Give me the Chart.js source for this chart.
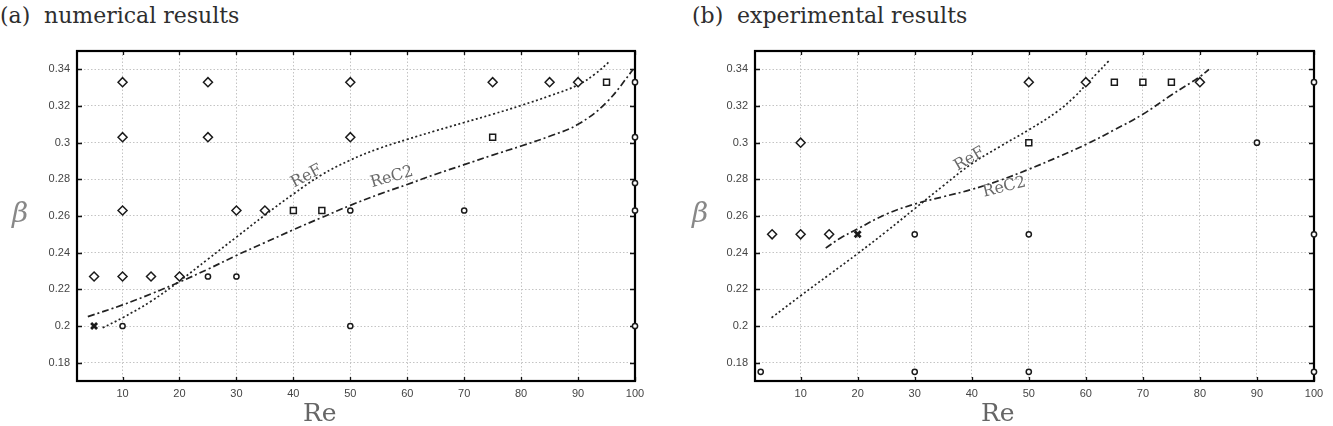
<!DOCTYPE html>
<html><head><meta charset="utf-8">
<script src="https://cdn.jsdelivr.net/npm/chart.js@4.4.1/dist/chart.umd.min.js"></script>
<style>
html,body{margin:0;padding:0;background:#fff;}
body{width:1333px;height:426px;position:relative;overflow:hidden;}
.wrap{position:absolute;top:0;height:426px;}
.t{position:absolute;font-family:"DejaVu Serif",serif;color:#2e2e2e;white-space:pre;line-height:1;}
.ax{position:absolute;font-family:"DejaVu Serif",serif;color:#666;white-space:pre;line-height:1;}
.beta{position:absolute;font-family:"DejaVu Serif",serif;font-style:italic;color:#888;line-height:1;}
</style></head><body>

<div class="t" style="left:0;top:5px;font-size:22px">(a)</div>
<div class="t" style="left:44px;top:5px;font-size:22px">numerical results</div>
<div class="t" style="left:692px;top:5px;font-size:22px">(b)</div>
<div class="t" style="left:737px;top:5px;font-size:22px">experimental results</div>

<div class="wrap" style="left:0;width:666px;"><canvas id="c1" width="666" height="426"></canvas></div>
<div class="wrap" style="left:666px;width:667px;"><canvas id="c2" width="667" height="426"></canvas></div>

<div class="ax" style="left:303px;top:400px;font-size:25px">Re</div>
<div class="ax" style="left:981px;top:400px;font-size:25px">Re</div>
<div class="beta" style="left:12px;top:199px;font-size:28px">β</div>
<div class="beta" style="left:692px;top:199px;font-size:28px">β</div>

<script>
// ---- axes ----
const xTickValues = [10,20,30,40,50,60,70,80,90,100];
const xTickLabels = ['10','20','30','40','50','60','70','80','90','100'];
const yTickValues = [0.18,0.20,0.22,0.24,0.26,0.28,0.30,0.32,0.34];
const yTickLabels = ['0.18','0.2','0.22','0.24','0.26','0.28','0.3','0.32','0.34'];
const xMin = 2, xMax = 100, yMin = 0.17, yMax = 0.35;

// ---- (a) numerical results ----
const numDiamondX = [5,10,15,20,10,10,10,25,25,30,35,50,50,75,85,90];
const numDiamondY = [0.227,0.227,0.227,0.227,0.263,0.303,0.333,0.303,0.333,0.263,0.263,0.303,0.333,0.333,0.333,0.333];
const numCircleX = [10,25,30,50,50,70,100,100,100,100,100];
const numCircleY = [0.200,0.227,0.227,0.200,0.263,0.263,0.200,0.263,0.278,0.303,0.333];
const numSquareX = [40,45,75,95];
const numSquareY = [0.263,0.263,0.303,0.333];
const numCrossX = [5];
const numCrossY = [0.200];
const numRefX = [6.5,10,15,20,25,30,35,40,45,50,55,60,65,70,75,80,85,90,93,95.6];
const numRefY = [0.199,0.2045,0.2135,0.2245,0.2365,0.2485,0.2605,0.2720,0.2825,0.2905,0.2968,0.3018,0.3065,0.3110,0.3155,0.3203,0.3255,0.3315,0.3375,0.3445];
const numRec2X = [3.9,10,15,20,25,30,35,40,45,50,55,60,65,70,75,80,85,90,95,99.7];
const numRec2Y = [0.2051,0.2115,0.2175,0.2240,0.2310,0.2385,0.2455,0.2525,0.2592,0.2658,0.2718,0.2772,0.2828,0.2880,0.2932,0.2982,0.3035,0.3100,0.3220,0.3400];
const numLabelText = ['ReF','ReC2'];
const numLabelX = [42.3,57.3];
const numLabelY = [0.2816,0.2811];
const numLabelAngle = [-28,-16];

// ---- (b) experimental results ----
const expDiamondX = [5,10,15,10,50,60,80];
const expDiamondY = [0.25,0.25,0.25,0.30,0.333,0.333,0.333];
const expCircleX = [3,30,30,50,50,90,100,100,100];
const expCircleY = [0.175,0.25,0.175,0.25,0.175,0.30,0.333,0.25,0.175];
const expSquareX = [50,65,70,75];
const expSquareY = [0.30,0.333,0.333,0.333];
const expCrossX = [20];
const expCrossY = [0.25];
const expRefX = [4.9,10,15,20,25,30,35,40,45,50,55,58,60,62,64];
const expRefY = [0.2045,0.2165,0.2280,0.2395,0.2515,0.2640,0.2765,0.2885,0.2980,0.3070,0.3170,0.3250,0.3315,0.3380,0.3445];
const expRec2X = [14.4,17,20,25,30,35,40,45,50,55,60,65,70,75,80,81.6];
const expRec2Y = [0.2425,0.2480,0.2530,0.2610,0.2665,0.2705,0.2745,0.2795,0.2855,0.2920,0.2990,0.3070,0.3155,0.3260,0.3360,0.3400];
const expLabelText = ['ReF','ReC2'];
const expLabelX = [39.6,45.7];
const expLabelY = [0.2909,0.2756];
const expLabelAngle = [-30,-14];

const zip = (xs, ys) => xs.map((x, i) => ({x, y: ys[i]}));

const framePlugin = {
  id: 'frame',
  beforeDatasetsDraw(chart) {
    const {ctx, chartArea: a, scales: {x, y}} = chart;
    ctx.save();
    ctx.strokeStyle = '#111';
    ctx.lineWidth = 1.3;
    ctx.beginPath();
    xTickValues.forEach(v => {
      const p = Math.round(x.getPixelForValue(v)) + 0.5;
      ctx.moveTo(p, a.bottom); ctx.lineTo(p, a.bottom - 4);
      ctx.moveTo(p, a.top); ctx.lineTo(p, a.top + 4);
    });
    yTickValues.forEach(v => {
      const p = Math.round(y.getPixelForValue(v)) + 0.5;
      ctx.moveTo(a.left, p); ctx.lineTo(a.left + 5, p);
      ctx.moveTo(a.right, p); ctx.lineTo(a.right - 5, p);
    });
    ctx.stroke();
    ctx.lineWidth = 2.2;
    ctx.strokeStyle = '#000';
    ctx.strokeRect(a.left, a.top, a.right - a.left, a.bottom - a.top);
    ctx.restore();
  }
};

const labelPlugin = {
  id: 'curveLabels',
  afterDatasetsDraw(chart, args, opts) {
    const {ctx, scales: {x, y}} = chart;
    ctx.save();
    ctx.fillStyle = '#6a6a6a';
    ctx.font = '16px "DejaVu Serif", serif';
    ctx.textAlign = 'center';
    ctx.textBaseline = 'middle';
    opts.text.forEach((t, i) => {
      ctx.save();
      ctx.translate(x.getPixelForValue(opts.xs[i]), y.getPixelForValue(opts.ys[i]));
      ctx.rotate(opts.angles[i] * Math.PI / 180);
      ctx.fillText(t, 0, 0);
      ctx.restore();
    });
    ctx.restore();
  }
};

function markerSet(xs, ys, style, radius, bw) {
  return {
    data: zip(xs, ys), pointStyle: style, pointRadius: radius,
    borderColor: '#1a1a1a', backgroundColor: '#fff', pointBorderWidth: bw,
    borderWidth: bw, showLine: false, clip: false, order: 0
  };
}
function curveSet(xs, ys, dash) {
  return {
    data: zip(xs, ys), showLine: true, pointRadius: 0, borderColor: '#222',
    borderWidth: 1.7, borderDash: dash, tension: 0.4,
    fill: false, clip: false, order: 1
  };
}

function makeChart(id, d, yAxisWidth, padRight) {
  const axisFont = {family: '"Liberation Sans", Arial, sans-serif', size: 11};
  return new Chart(document.getElementById(id), {
    type: 'scatter',
    data: {datasets: [
      markerSet(d.dx, d.dy, 'rectRot', 4.5, 1.5),
      markerSet(d.cx, d.cy, 'circle', 2.6, 1.5),
      markerSet(d.sx, d.sy, 'rect', 4.2, 1.5),
      markerSet(d.kx, d.ky, 'crossRot', 4.2, 2.8),
      curveSet(d.rfx, d.rfy, [2, 2.5]),
      curveSet(d.rcx, d.rcy, [7, 3, 2, 3])
    ]},
    options: {
      responsive: false, animation: false,
      layout: {padding: {left: 0, right: padRight, top: 51, bottom: 0}},
      plugins: {
        legend: {display: false}, tooltip: {enabled: false},
        curveLabels: {text: d.lt, xs: d.lx, ys: d.ly, angles: d.la}
      },
      scales: {
        x: {
          type: 'linear', min: xMin, max: xMax,
          afterBuildTicks: ax => { ax.ticks = xTickValues.map(v => ({value: v})); },
          afterFit: ax => { ax.height = 45; ax.paddingLeft = 0; ax.paddingRight = 0; },
          ticks: {font: axisFont, color: '#444', padding: 6, maxRotation: 0,
                  callback: (v) => xTickLabels[xTickValues.indexOf(v)]},
          grid: {color: '#c4c4c4', lineWidth: 1, drawTicks: false},
          border: {display: false, dash: [1.5, 2]}
        },
        y: {
          type: 'linear', min: yMin, max: yMax,
          afterBuildTicks: ax => { ax.ticks = yTickValues.map(v => ({value: v})); },
          afterFit: ax => { ax.width = yAxisWidth; ax.paddingTop = 0; ax.paddingBottom = 0; },
          ticks: {font: axisFont, color: '#444', padding: 7,
                  callback: (v) => yTickLabels[yTickValues.findIndex(t => Math.abs(t - v) < 1e-9)]},
          grid: {color: '#c4c4c4', lineWidth: 1, drawTicks: false},
          border: {display: false, dash: [1.5, 2]}
        }
      }
    },
    plugins: [framePlugin, labelPlugin]
  });
}

makeChart('c1', {
  dx: numDiamondX, dy: numDiamondY, cx: numCircleX, cy: numCircleY,
  sx: numSquareX, sy: numSquareY, kx: numCrossX, ky: numCrossY,
  rfx: numRefX, rfy: numRefY, rcx: numRec2X, rcy: numRec2Y,
  lt: numLabelText, lx: numLabelX, ly: numLabelY, la: numLabelAngle
}, 77, 31);

makeChart('c2', {
  dx: expDiamondX, dy: expDiamondY, cx: expCircleX, cy: expCircleY,
  sx: expSquareX, sy: expSquareY, kx: expCrossX, ky: expCrossY,
  rfx: expRefX, rfy: expRefY, rcx: expRec2X, rcy: expRec2Y,
  lt: expLabelText, lx: expLabelX, ly: expLabelY, la: expLabelAngle
}, 89, 19);
</script>
</body></html>
